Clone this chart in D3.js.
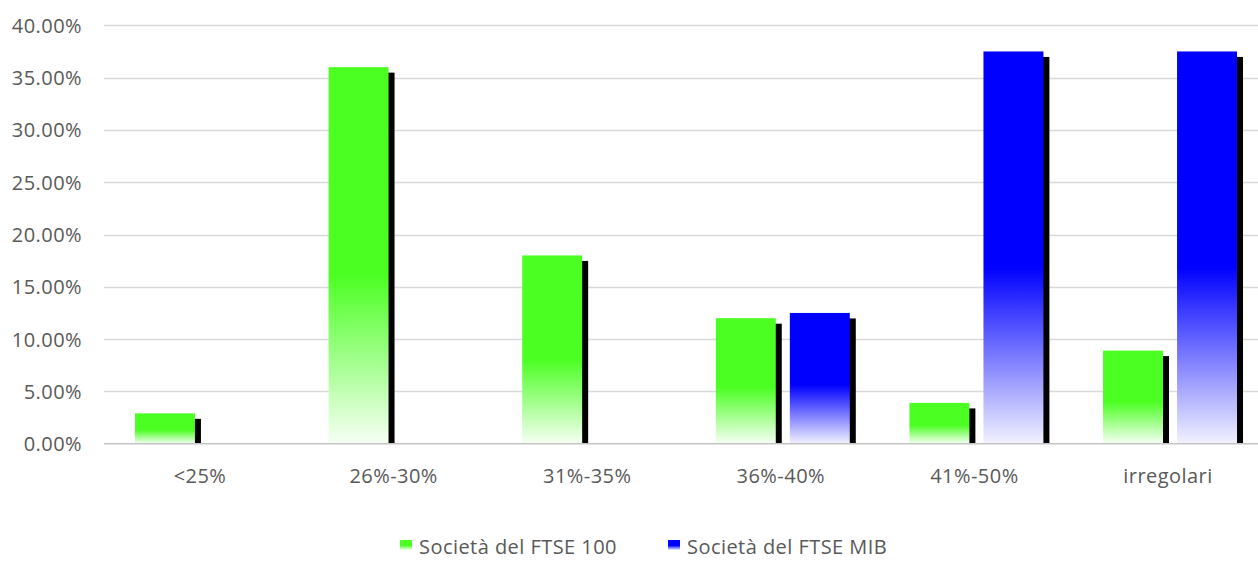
<!DOCTYPE html>
<html>
<head>
<meta charset="utf-8">
<script src="https://cdn.jsdelivr.net/npm/d3@7"></script>
<style>
  html, body { margin: 0; padding: 0; background: #fff; }
  svg { display: block; }
  text { font-family: "Open Sans", "DejaVu Sans", sans-serif; fill: #595959; }
</style>
</head>
<body>
<svg id="chart" width="1258" height="564"></svg>
<script>
// Categories (tax-rate bands) and the share of companies in each band
const categories = ["<25%", "26%-30%", "31%-35%", "36%-40%", "41%-50%", "irregolari"];
const seriesNames = ["Società del FTSE 100", "Società del FTSE MIB"];
const ftse100 = [2.9, 36.0, 18.0, 12.0, 3.9, 8.9];
const ftseMib = [0, 0, 0, 12.5, 37.5, 37.5];
const yTicks = [0, 5, 10, 15, 20, 25, 30, 35, 40];
const seriesColors = ["#4bff22", "#0000ff"];

const FONT_SIZE = "20px";
const LETTER_SP = "0.45px";

const svg = d3.select("#chart");
const W = 1258, H = 564;
const plot = { left: 104, right: 1268, top: 25.3, bottom: 443.7 };

const y = d3.scaleLinear().domain([0, 40]).range([plot.bottom, plot.top]);
const x0 = d3.scaleBand().domain(categories).range([plot.left, plot.right])
  .paddingInner(0.308).paddingOuter(0.16);
const x1 = d3.scaleBand().domain(seriesNames).range([0, x0.bandwidth()]).paddingInner(0.19);

// Vertical fade for each series: solid on top, fading to white at the base
const defs = svg.append("defs");
seriesColors.forEach((c, i) => {
  const g = defs.append("linearGradient").attr("id", "grad" + i)
    .attr("x1", 0).attr("y1", 0).attr("x2", 0).attr("y2", 1);
  g.append("stop").attr("offset", "0").attr("stop-color", c);
  g.append("stop").attr("offset", "0.55").attr("stop-color", c);
  g.append("stop").attr("offset", "1").attr("stop-color", d3.interpolateRgb(c, "#fff")(0.95));
});
const blur = defs.append("filter").attr("id", "soft").attr("x", "-20%").attr("y", "-5%")
  .attr("width", "140%").attr("height", "110%");
blur.append("feGaussianBlur").attr("stdDeviation", 0.6);

// Horizontal gridlines
svg.append("g").selectAll("line").data(yTicks.filter(t => t > 0)).join("line")
  .attr("x1", plot.left).attr("x2", W)
  .attr("y1", d => Math.round(y(d)) + 0.5).attr("y2", d => Math.round(y(d)) + 0.5)
  .attr("stroke", "#d9d9d9").attr("stroke-width", 1.3);

// Y axis labels
const yAxis = d3.axisLeft(y).tickValues(yTicks).tickSize(0).tickPadding(0)
  .tickFormat(d => d3.format(".2f")(d) + "%");
const gy = svg.append("g").attr("transform", `translate(82,0)`).call(yAxis);
gy.select(".domain").remove();
gy.selectAll("text").style("font-size", FONT_SIZE).style("letter-spacing", LETTER_SP)
  .attr("fill", "#595959")
  .style("font-family", '"Open Sans", sans-serif').attr("dy", "0.35em");

// Bars with offset shadows
const data = categories.map((c, i) => ({ cat: c, vals: [ftse100[i], ftseMib[i]] }));
const groups = svg.append("g").selectAll("g").data(data).join("g")
  .attr("transform", d => `translate(${x0(d.cat)},0)`);
const bars = groups.selectAll("g").data(d => d.vals.map((v, i) => ({ v, i })).filter(e => e.v > 0))
  .join("g");
bars.append("rect")
  .attr("x", e => x1(seriesNames[e.i]) + 6)
  .attr("y", e => y(e.v) + 5.5)
  .attr("width", x1.bandwidth())
  .attr("height", e => Math.max(0, y(0) - y(e.v) - 5.5))
  .attr("fill", "#000").attr("filter", "url(#soft)");
bars.append("rect")
  .attr("x", e => x1(seriesNames[e.i]))
  .attr("y", e => y(e.v))
  .attr("width", x1.bandwidth())
  .attr("height", e => y(0) - y(e.v))
  .attr("fill", e => `url(#grad${e.i})`);

// Baseline
svg.append("line").attr("x1", plot.left).attr("x2", W)
  .attr("y1", y(0)).attr("y2", y(0))
  .attr("stroke", "#c4c4c4").attr("stroke-width", 1.6);

// Category labels
const xAxis = d3.axisBottom(x0).tickSize(0).tickPadding(0);
const gx = svg.append("g").attr("transform", `translate(0,483)`).call(xAxis);
gx.select(".domain").remove();
gx.selectAll("text").attr("dy", 0).style("font-size", FONT_SIZE).style("letter-spacing", LETTER_SP)
  .attr("fill", "#595959")
  .style("font-family", '"Open Sans", sans-serif')
  .attr("x", 0);
gx.selectAll(".tick").attr("transform", d => `translate(${x0(d) + x0.bandwidth() / 2 - 2},0)`);

// Legend
const legendX = [400, 668];
const leg = svg.append("g").selectAll("g").data(seriesNames).join("g")
  .attr("transform", (d, i) => `translate(${legendX[i]},0)`);
leg.append("rect").attr("x", 0).attr("y", 540).attr("width", 12).attr("height", 10)
  .attr("fill", (d, i) => `url(#grad${i})`);
leg.append("text").attr("x", 19).attr("y", 554)
  .style("font-size", FONT_SIZE).style("letter-spacing", LETTER_SP).text(d => d);
</script>
</body>
</html>
